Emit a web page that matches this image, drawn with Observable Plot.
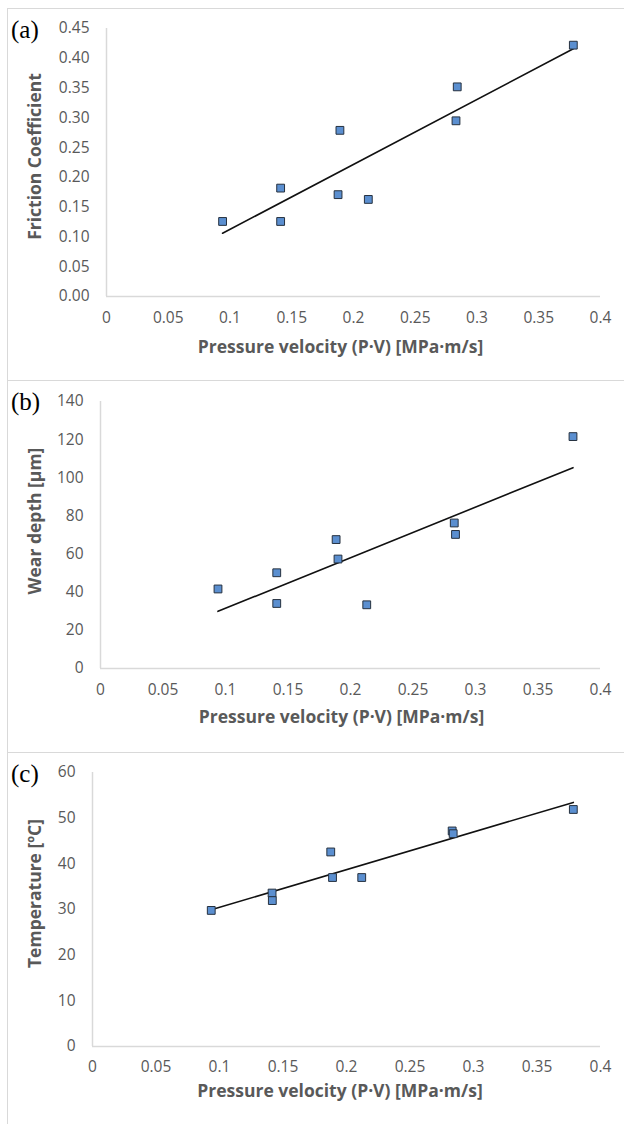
<!DOCTYPE html>
<html>
<head>
<meta charset="utf-8">
<script src="https://cdn.jsdelivr.net/npm/d3@7"></script>
<script src="https://cdn.jsdelivr.net/npm/@observablehq/plot@0.6"></script>
<style>
  html, body { margin: 0; padding: 0; background: #fff; overflow: hidden; }
  .panel { position: absolute; left: 7px; width: 617px; height: 372px; box-sizing: border-box;
           border-top: 1px solid #d9d9d9; border-left: 1px solid #d9d9d9; }
  .panel svg { position: absolute; left: 0; top: 0; }
  .letter { position: absolute; left: 3px; font-family: "Liberation Serif", "Times New Roman", serif;
            font-size: 25px; color: #000; line-height: 1; z-index: 2; }
</style>
</head>
<body>
<div id="pa" class="panel" style="top:8px"><div class="letter" style="top:8px">(a)</div></div>
<div id="pb" class="panel" style="top:380px"><div class="letter" style="top:8px">(b)</div></div>
<div id="pc" class="panel" style="top:752px"><div class="letter" style="top:8px">(c)</div></div>
<script>
// ---- data ----
const pvA = [0.094, 0.141, 0.141, 0.189, 0.1875, 0.212, 0.284, 0.283, 0.378];
const friction = [0.126, 0.182, 0.126, 0.279, 0.171, 0.163, 0.352, 0.295, 0.422];

const pvB = [0.094, 0.141, 0.141, 0.1885, 0.19, 0.213, 0.283, 0.284, 0.378];
const wearDepth = [41.7, 50.2, 34.1, 67.6, 57.4, 33.4, 76.3, 70.3, 121.6];

const pvC = [0.0935, 0.1414, 0.1416, 0.1876, 0.189, 0.212, 0.2832, 0.284, 0.3786];
const temperature = [29.8, 33.6, 31.95, 42.6, 37.0, 37.0, 47.2, 46.6, 51.9];

const xTicks = [0, 0.05, 0.1, 0.15, 0.2, 0.25, 0.3, 0.35, 0.4];
const xTickLabels = ["0", "0.05", "0.1", "0.15", "0.2", "0.25", "0.3", "0.35", "0.4"];
const yTicksA = [0, 0.05, 0.1, 0.15, 0.2, 0.25, 0.3, 0.35, 0.4, 0.45];
const yTickLabelsA = ["0.00", "0.05", "0.10", "0.15", "0.20", "0.25", "0.30", "0.35", "0.40", "0.45"];
const yTicksB = [0, 20, 40, 60, 80, 100, 120, 140];
const yTickLabelsB = ["0", "20", "40", "60", "80", "100", "120", "140"];
const yTicksC = [0, 10, 20, 30, 40, 50, 60];
const yTickLabelsC = ["0", "10", "20", "30", "40", "50", "60"];

const xTitle = "Pressure velocity (P·V) [MPa·m/s]";
const yTitleA = "Friction Coefficient";
const yTitleB = "Wear depth [µm]";
const yTitleC = "Temperature [ºC]";

const GREY = "#595959";
const AXIS = "#d9d9d9";
const FILL = "#5b8fd0";
const EDGE = "#26313f";
const FONT = "'Open Sans', 'DejaVu Sans', sans-serif";

function panel(cfg) {
  const data = cfg.xs.map((x, i) => ({x, y: cfg.ys[i]}));
  const yMax = cfg.yTicks[cfg.yTicks.length - 1];
  return Plot.plot({
    width: 616,
    height: 371,
    marginLeft: cfg.m[0], marginRight: cfg.m[1], marginTop: cfg.m[2], marginBottom: cfg.m[3],
    style: {fontFamily: FONT, background: "transparent", overflow: "visible"},
    x: {domain: [0, 0.4]},
    y: {domain: [0, yMax]},
    marks: [
      Plot.ruleY([0], {x1: 0, x2: 0.4, stroke: AXIS, strokeWidth: 1.5}),
      Plot.ruleX([0], {y1: 0, y2: yMax, stroke: AXIS, strokeWidth: 1.5}),
      Plot.axisX(xTicks, {tickSize: 0, tickPadding: cfg.xPad, fontSize: 15.5, fill: GREY,
        tickFormat: d => xTickLabels[xTicks.indexOf(d)], label: null}),
      Plot.axisY(cfg.yTicks, {tickSize: 0, tickPadding: 17, fontSize: 15.5, fill: GREY,
        tickFormat: d => cfg.yLabels[cfg.yTicks.indexOf(d)], label: null}),
      Plot.text([xTitle], {frameAnchor: "bottom", textAnchor: "middle", lineAnchor: "middle",
        dx: cfg.xtDx, dy: cfg.xtDy, fontSize: 17.5, fontWeight: "bold", fill: GREY}),
      Plot.text([cfg.yTitle], {frameAnchor: "left", textAnchor: "middle", lineAnchor: "middle",
        dx: cfg.ytDx, dy: cfg.ytDy, rotate: -90, fontSize: 17.5, fontWeight: "bold", fill: GREY}),
      Plot.linearRegressionY(data, {x: "x", y: "y", ci: 0, stroke: "#111", strokeWidth: 1.6}),
      Plot.dot(data, {x: "x", y: "y", symbol: "square", r: 4.4, fill: FILL, stroke: EDGE, strokeWidth: 1})
    ]
  });
}

document.getElementById("pa").appendChild(panel({
  xs: pvA, ys: friction, yTicks: yTicksA, yLabels: yTickLabelsA, yTitle: yTitleA,
  m: [98, 24, 19, 84], xPad: 15, xtDx: -13, xtDy: 51, ytDx: -71, ytDy: -6
}));
document.getElementById("pb").appendChild(panel({
  xs: pvB, ys: wearDepth, yTicks: yTicksB, yLabels: yTickLabelsB, yTitle: yTitleB,
  m: [92, 24, 20, 84], xPad: 15, xtDx: -9, xtDy: 49, ytDx: -65, ytDy: -14
}));
document.getElementById("pc").appendChild(panel({
  xs: pvC, ys: temperature, yTicks: yTicksC, yLabels: yTickLabelsC, yTitle: yTitleC,
  m: [84, 24, 19, 78], xPad: 14, xtDx: -6.5, xtDy: 45, ytDx: -57, ytDy: -16
}));
</script>
</body>
</html>
